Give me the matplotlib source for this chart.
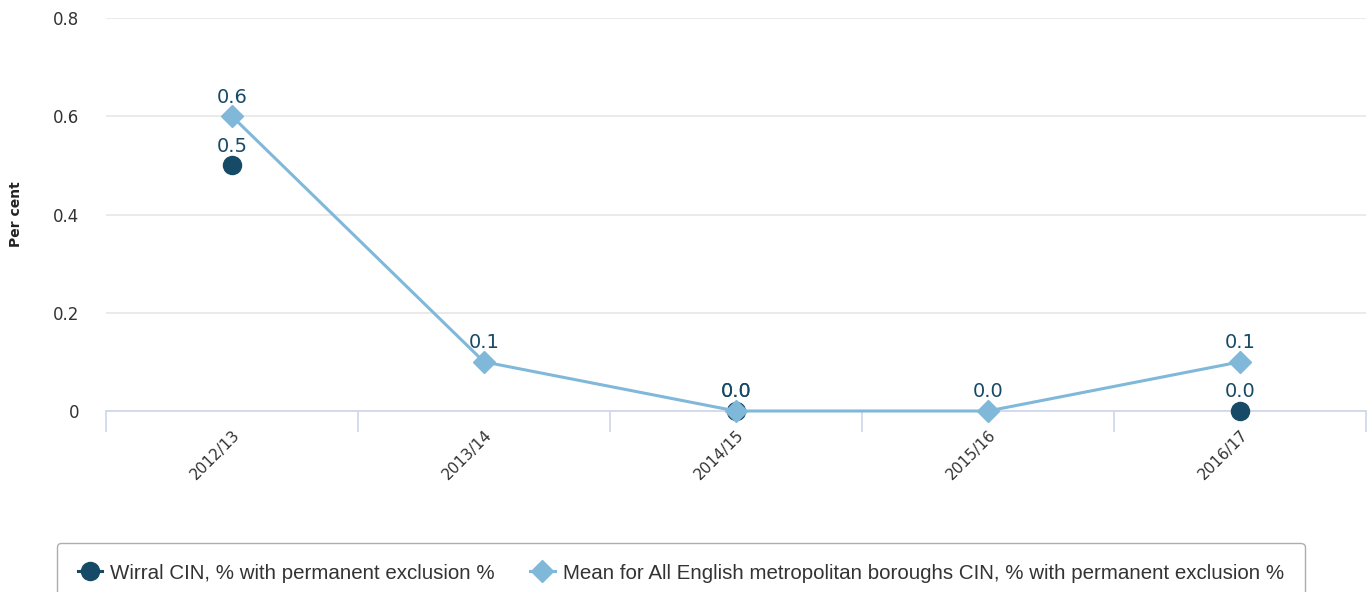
import numpy as np
import matplotlib.pyplot as plt
from matplotlib.ticker import FuncFormatter

years = ['2012/13', '2013/14', '2014/15', '2015/16', '2016/17']
wirral = [0.5, np.nan, 0.0, np.nan, 0.0]
mean_met = [0.6, 0.1, 0.0, 0.0, 0.1]

wirral_label = 'Wirral CIN, % with permanent exclusion %'
mean_label = 'Mean for All English metropolitan boroughs CIN, % with permanent exclusion %'

dark = '#174a66'
light = '#80b8d9'

fig = plt.figure(figsize=(13.72, 5.92), dpi=100)
ax = fig.add_axes([106 / 1372, 1 - 411 / 592, 1260 / 1372, 393 / 592])

x = np.arange(len(years))
ax.plot(x, wirral, color=dark, marker='o', markersize=13, linewidth=2.2,
        label=wirral_label, clip_on=False, zorder=3)
ax.plot(x, mean_met, color=light, marker='D', markersize=11, linewidth=2.2,
        label=mean_label, clip_on=False, zorder=4)

# data labels
for xi, v in zip(x, wirral):
    if not np.isnan(v):
        ax.annotate(f'{v:.1f}', (xi, v), xytext=(0, 7), textcoords='offset points',
                    ha='center', va='bottom', fontsize=14, color=dark, zorder=5)
for xi, v in zip(x, mean_met):
    ax.annotate(f'{v:.1f}', (xi, v), xytext=(0, 7), textcoords='offset points',
                ha='center', va='bottom', fontsize=14, color=dark, zorder=5)

ax.set_xlim(-0.5, len(years) - 0.5)
ax.set_ylim(0, 0.8)
ax.set_yticks([0, 0.2, 0.4, 0.6, 0.8])
ax.yaxis.set_major_formatter(FuncFormatter(lambda v, p: '0' if v == 0 else f'{v:.1f}'))
ax.grid(axis='y', color='#e6e6e6', linewidth=1.2)
ax.set_axisbelow(True)

ax.set_xticks(x)
ax.set_xticklabels(years, rotation=45, ha='right', rotation_mode='anchor', fontsize=11, color='#333333')
ax.set_xticks(np.arange(-0.5, len(years)), minor=True)
ax.tick_params(axis='x', which='major', length=0, pad=12)
ax.tick_params(axis='x', which='minor', length=15, color='#ccd6eb', width=1.2)
ax.tick_params(axis='y', length=0, pad=19, labelsize=12, labelcolor='#333333')

for s in ['top', 'right', 'left']:
    ax.spines[s].set_visible(False)
ax.spines['bottom'].set_color('#ccd6eb')
ax.spines['bottom'].set_linewidth(1.2)

fig.text(16 / 1372, 1 - 214 / 592, 'Per cent', rotation=90, fontsize=10, fontweight='bold',
         ha='center', va='center', color='#222222')

leg = fig.legend(loc='upper left', bbox_to_anchor=(57 / 1372, 1 - 543 / 592), ncol=2,
                 prop={'family': 'Liberation Sans', 'size': 14.8}, frameon=True,
                 fancybox=True, edgecolor='#999999', handlelength=1.2,
                 handletextpad=0.4, columnspacing=1.7, borderpad=1.0, borderaxespad=0)
leg.get_frame().set_linewidth(1.0)
for t in leg.get_texts():
    t.set_color('#333333')

fig.savefig('out.png', dpi=100)
